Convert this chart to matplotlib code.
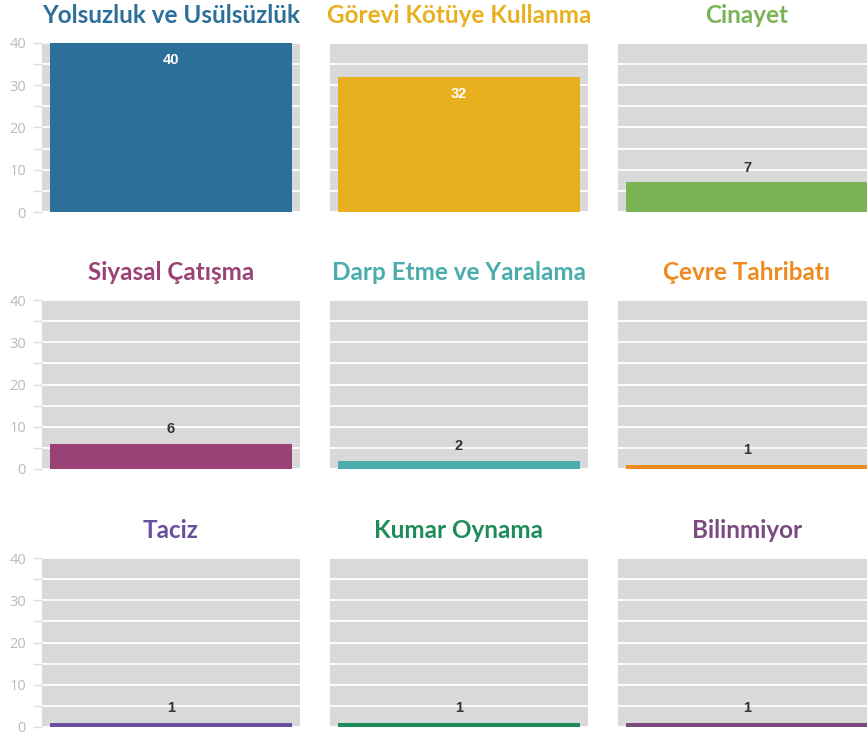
import matplotlib
matplotlib.use("Agg")
import matplotlib.pyplot as plt
from matplotlib.ticker import MultipleLocator

categories = ["Yolsuzluk ve Usülsüzlük", "Görevi Kötüye Kullanma", "Cinayet",
              "Siyasal Çatışma", "Darp Etme ve Yaralama", "Çevre Tahribatı",
              "Taciz", "Kumar Oynama", "Bilinmiyor"]
values = [40, 32, 7, 6, 2, 1, 1, 1, 1]
colors = ["#2c6f99", "#e8b01e", "#7ab354", "#9a4175", "#4aacac", "#ef8a1e",
          "#6a4f9e", "#1e8c5a", "#7b4a7e"]
y_ticks = [0, 10, 20, 30, 40]

W, H = 867, 740
fig = plt.figure(figsize=(W / 100, H / 100), dpi=100)

col_left = [42, 330, 618]
row_top = [43, 300, 558]
pw, ph = 258, 169

for i, (cat, val, col) in enumerate(zip(categories, values, colors)):
    r, c = divmod(i, 3)
    left = col_left[c] / W
    bottom = 1 - (row_top[r] + ph) / H
    ax = fig.add_axes([left, bottom, pw / W, ph / H])
    ax.set_facecolor("#d9d9d9")
    ax.set_xlim(-0.5, 0.5)
    ax.set_ylim(0, 40)
    ax.bar([0], [val], width=242 / 258, color=col, zorder=3)
    ax.yaxis.set_major_locator(MultipleLocator(10))
    ax.yaxis.set_minor_locator(MultipleLocator(5))
    ax.grid(True, which="both", axis="y", color="white", linewidth=1.3, zorder=1)
    ax.set_axisbelow(True)
    for s in ax.spines.values():
        s.set_visible(False)
    ax.set_xticks([])
    if c == 0:
        ax.set_yticks(y_ticks)
        ax.tick_params(axis="y", which="both", length=6.5, width=1, color="#dddddd",
                       labelcolor="#bbbbbb", labelsize=10.5, pad=5)
        for lab in ax.get_yticklabels():
            lab.set_fontfamily("Open Sans")
    else:
        ax.tick_params(axis="y", which="both", length=0, labelleft=False)
    ax.set_title(cat, color=col, fontsize=17.5, fontweight="bold",
                 fontfamily="Lato", pad=14.5)
    if val > 20:
        ax.annotate(str(val), (0, val), xytext=(0, -7), textcoords="offset points",
                    ha="center", va="top", color="white", fontsize=10.5,
                    fontweight="bold", fontfamily="Liberation Sans", zorder=5)
    else:
        ax.annotate(str(val), (0, val), xytext=(0, 5.5), textcoords="offset points",
                    ha="center", va="bottom", color="#333333", fontsize=10.5,
                    fontweight="bold", fontfamily="Liberation Sans", zorder=5)

fig.savefig("out.png", dpi=100, facecolor="white")
